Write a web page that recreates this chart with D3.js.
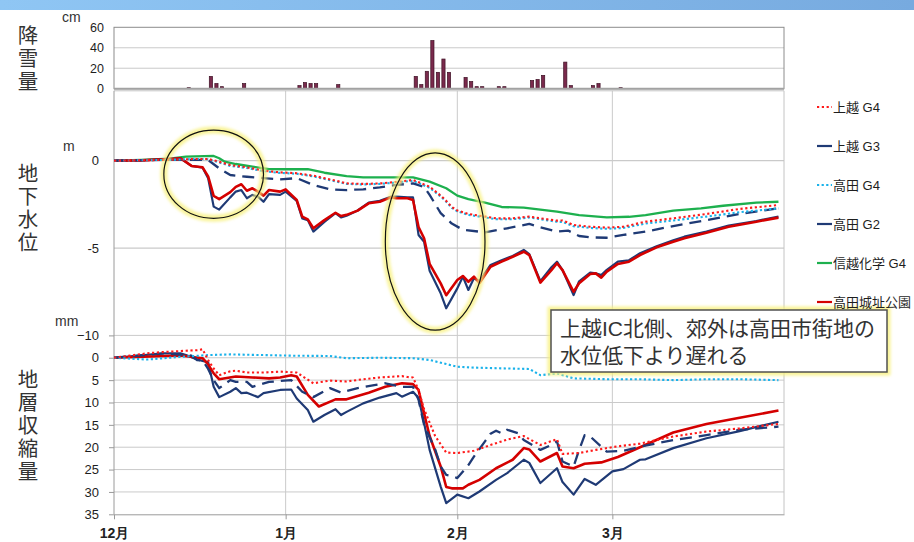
<!DOCTYPE html>
<html>
<head>
<meta charset="utf-8">
<script src="https://cdn.jsdelivr.net/npm/d3@7"></script>
<style>
  html, body { margin: 0; padding: 0; background: #fff; }
  svg { display: block; font-family: "Liberation Sans", "Noto Sans CJK JP", sans-serif; }
</style>
</head>
<body>
<svg id="chart" width="914" height="542"></svg>
<script>
// ---- Data -------------------------------------------------------------
const months = ["12月", "1月", "2月", "3月"];
const monthStarts = ["12-01", "01-01", "02-01", "03-01"];

// daily snowfall (cm)
const snowDates = ["12-14","12-18","12-19","12-20","12-24","01-03","01-04","01-05","01-06","01-10",
  "01-24","01-25","01-26","01-27","01-28","01-29","01-30","02-02","02-03","02-04","02-05","02-08",
  "02-09","02-14","02-15","02-16","02-20","02-21","02-25","02-26","03-02"];
const snowCm = [1,12,5,2,5,3,6,5,5,4,12,4,17,47,16,29,16,11,7,2,2,2,2,8,9,13,26,3,3,5,1];
const snowTicks = [0, 20, 40, 60];

// groundwater level (m)
const gwTickValues = [0, -5, -10];
const gwTickLabels = ["0", "-5", "\u221210"];

const gwJoetsuG4 = [["12-01",0],["12-11",0.05],["12-16",0.1],["12-18",0.1],["12-20",-0.06],["12-22",-0.25],["12-25",-0.38],["12-28",-0.57],["12-31",-0.67],["01-03",-0.72],["01-06",-0.86],["01-10",-1.14],["01-12",-1.3],["01-15",-1.33],["01-18",-1.3],["01-21",-1.22],["01-24",-1.1],["01-27",-1.49],["01-29",-2.0],["01-30",-2.3],["01-31",-2.65],["02-01",-2.85],["02-03",-3.05],["02-06",-3.2],["02-08",-3.3],["02-11",-3.3],["02-14",-3.2],["02-16",-3.3],["02-19",-3.43],["02-20",-3.42],["02-22",-3.68],["02-25",-3.78],["02-28",-3.83],["03-03",-3.78],["03-07",-3.49],["03-12",-3.3],["03-18",-3.05],["03-24",-2.76],["03-31",-2.54]];

const gwJoetsuG3 = [["12-01",0],["12-11",0.05],["12-16",0.05],["12-18",0.04],["12-20",-0.44],["12-22",-0.82],["12-25",-0.92],["12-28",-1.0],["12-31",-1.07],["01-03",-1.0],["01-06",-1.39],["01-09",-1.64],["01-12",-1.68],["01-15",-1.64],["01-18",-1.53],["01-21",-1.39],["01-24",-1.3],["01-26",-1.5],["01-27",-1.96],["01-29",-3.0],["01-31",-3.6],["02-02",-3.95],["02-06",-4.1],["02-10",-3.87],["02-14",-3.62],["02-16",-3.81],["02-19",-4.06],["02-21",-4.0],["02-23",-4.31],["02-25",-4.39],["02-28",-4.41],["03-03",-4.25],["03-07",-4.06],["03-12",-3.74],["03-18",-3.4],["03-24",-3.05],["03-31",-2.73]];

const gwTakadaG4 = [["12-01",0],["12-11",0.05],["12-16",0.1],["12-18",0.08],["12-20",-0.1],["12-22",-0.3],["12-25",-0.42],["12-28",-0.6],["12-31",-0.7],["01-03",-0.75],["01-06",-0.9],["01-10",-1.18],["01-12",-1.33],["01-15",-1.36],["01-18",-1.33],["01-21",-1.25],["01-24",-1.15],["01-27",-1.55],["01-29",-2.05],["01-30",-2.35],["01-31",-2.7],["02-01",-2.9],["02-03",-3.1],["02-06",-3.25],["02-08",-3.35],["02-11",-3.35],["02-14",-3.25],["02-16",-3.35],["02-19",-3.5],["02-20",-3.5],["02-22",-3.75],["02-25",-3.85],["02-28",-3.9],["03-03",-3.85],["03-07",-3.6],["03-12",-3.42],["03-18",-3.2],["03-24",-2.95],["03-31",-2.73]];

const gwTakadaG2 = [["12-01",0],["12-06",0.02],["12-11",0.1],["12-13",0.14],["12-15",-0.3],["12-17",-0.4],["12-18",-1.0],["12-19",-2.63],["12-20",-2.8],["12-22",-2.1],["12-23",-1.77],["12-24",-1.68],["12-25",-2.15],["12-26",-1.96],["12-27",-2.06],["12-28",-2.35],["12-29",-1.91],["12-31",-1.96],["01-01",-1.77],["01-03",-2.3],["01-04",-3.3],["01-05",-3.4],["01-06",-4.06],["01-08",-3.5],["01-10",-3.0],["01-11",-3.25],["01-12",-3.15],["01-14",-2.85],["01-16",-2.4],["01-18",-2.3],["01-20",-2.06],["01-21",-2.05],["01-23",-2.1],["01-24",-2.1],["01-25",-4.25],["01-26",-4.64],["01-27",-6.3],["01-29",-7.59],["01-30",-8.45],["02-01",-7.31],["02-02",-6.64],["02-03",-7.4],["02-04",-6.73],["02-05",-6.9],["02-07",-5.97],["02-09",-5.7],["02-11",-5.45],["02-13",-5.11],["02-14",-5.35],["02-16",-6.9],["02-18",-6.1],["02-19",-5.78],["02-20",-6.26],["02-22",-7.69],["02-23",-6.9],["02-25",-6.4],["02-26",-6.45],["02-27",-6.55],["02-28",-6.25],["03-02",-5.78],["03-04",-5.7],["03-06",-5.3],["03-09",-4.9],["03-12",-4.55],["03-14",-4.35],["03-18",-4.06],["03-22",-3.72],["03-27",-3.45],["03-31",-3.2]];

const gwShinetsuG4 = [["12-01",0],["12-06",0.05],["12-11",0.12],["12-14",0.23],["12-19",0.27],["12-20",0.14],["12-21",-0.06],["12-23",-0.19],["12-26",-0.34],["12-29",-0.48],["01-01",-0.49],["01-05",-0.49],["01-08",-0.69],["01-12",-0.88],["01-15",-0.95],["01-22",-0.95],["01-24",-0.95],["01-27",-1.2],["01-30",-1.58],["02-01",-2.0],["02-03",-2.2],["02-06",-2.4],["02-09",-2.65],["02-13",-2.69],["02-19",-2.92],["02-23",-3.11],["02-28",-3.24],["03-04",-3.21],["03-07",-3.11],["03-12",-2.86],["03-17",-2.73],["03-21",-2.58],["03-27",-2.4],["03-31",-2.35]];

const gwTakadaCastle = [["12-01",0],["12-06",0.02],["12-11",0.1],["12-13",0.14],["12-15",-0.3],["12-17",-0.38],["12-18",-0.9],["12-19",-2.02],["12-20",-2.2],["12-22",-1.8],["12-23",-1.5],["12-24",-1.35],["12-25",-1.72],["12-26",-1.58],["12-27",-1.77],["12-28",-2.0],["12-29",-1.68],["12-31",-1.77],["01-01",-1.64],["01-03",-2.25],["01-04",-3.2],["01-05",-3.36],["01-06",-3.87],["01-08",-3.4],["01-10",-2.98],["01-11",-3.17],["01-12",-3.1],["01-14",-2.86],["01-16",-2.44],["01-18",-2.35],["01-20",-2.1],["01-21",-2.15],["01-23",-2.15],["01-24",-2.25],["01-25",-3.8],["01-26",-4.44],["01-27",-5.9],["01-29",-7.02],["01-30",-7.7],["02-01",-6.83],["02-02",-6.6],["02-03",-6.93],["02-04",-6.64],["02-05",-7.0],["02-07",-6.07],["02-09",-5.78],["02-11",-5.5],["02-13",-5.21],["02-14",-5.4],["02-16",-6.98],["02-18",-6.26],["02-19",-5.87],["02-20",-6.26],["02-22",-7.5],["02-23",-7.02],["02-25",-6.49],["02-26",-6.45],["02-27",-6.7],["02-28",-6.35],["03-02",-5.91],["03-04",-5.78],["03-06",-5.4],["03-09",-4.96],["03-12",-4.64],["03-14",-4.44],["03-18",-4.12],["03-22",-3.78],["03-27",-3.49],["03-31",-3.26]];

// layer compaction (mm, downward positive)
const subTicks = [0, 5, 10, 15, 20, 25, 30, 35];

const subJoetsuG4 = [["12-01",0],["12-07",-1.0],["12-10",-1.3],["12-13",-1.5],["12-16",-1.7],["12-17",-1.9],["12-18",0.5],["12-19",2.4],["12-20",3.9],["12-22",3.0],["12-23",2.9],["12-25",3.3],["12-28",3.3],["12-31",3.1],["01-03",3.3],["01-06",5.7],["01-09",5.1],["01-12",5.3],["01-15",4.8],["01-18",4.4],["01-22",4.1],["01-23",4.3],["01-24",4.4],["01-25",7.2],["01-26",11.5],["01-28",17.5],["01-30",21.2],["02-01",21.3],["02-04",20.8],["02-07",19.5],["02-10",18.3],["02-13",17.5],["02-16",19.5],["02-19",18.2],["02-20",21.5],["02-23",21.3],["02-26",20.6],["03-02",19.8],["03-06",19.2],["03-12",17.6],["03-18",16.5],["03-24",15.8],["03-31",14.8]];

const subJoetsuG3 = [["12-01",0],["12-10",-1.0],["12-15",-0.5],["12-16",0.5],["12-17",0.6],["12-18",2.5],["12-19",5.0],["12-20",6.8],["12-22",5.0],["12-23",5.4],["12-25",5.4],["12-26",6.5],["12-29",5.4],["12-31",5.2],["01-02",5.0],["01-04",7.6],["01-06",8.8],["01-09",6.8],["01-11",7.8],["01-14",6.8],["01-17",6.1],["01-19",5.7],["01-22",6.5],["01-24",6.5],["01-25",9.4],["01-26",15.0],["01-28",20.5],["01-29",24.3],["01-30",26.2],["01-31",26.4],["02-01",26.9],["02-03",24.0],["02-04",22.1],["02-06",18.7],["02-07",17.0],["02-08",16.3],["02-09",16.9],["02-10",16.1],["02-12",16.9],["02-13",18.4],["02-14",19.1],["02-16",20.6],["02-18",19.5],["02-19",18.7],["02-20",23.2],["02-22",24.3],["02-23",20.6],["02-24",17.3],["02-25",17.6],["02-27",19.9],["02-28",21.0],["03-03",20.8],["03-06",19.9],["03-12",18.4],["03-18",17.3],["03-24",16.1],["03-31",15.4]];

const subTakadaG4 = [["12-01",0],["12-07",0.4],["12-13",-0.2],["12-18",-0.6],["12-22",-0.75],["12-28",-0.6],["01-03",-0.45],["01-09",-0.4],["01-12",0.1],["01-18",0],["01-24",0.1],["01-27",0.5],["01-30",1.4],["02-01",2.0],["02-04",2.2],["02-10",2.4],["02-14",2.5],["02-16",3.9],["02-19",3.5],["02-22",4.6],["02-28",4.8],["03-06",4.8],["03-12",5.0],["03-18",4.8],["03-24",4.8],["03-31",5.0]];

const subTakadaG2 = [["12-01",0],["12-10",-1.0],["12-13",-1.0],["12-14",-0.6],["12-16",0.4],["12-17",0.7],["12-18",1.0],["12-19",6.5],["12-20",8.8],["12-22",7.6],["12-23",6.8],["12-24",7.9],["12-25",7.8],["12-27",8.8],["12-28",7.9],["12-31",7.2],["01-02",7.1],["01-03",9.1],["01-05",11.7],["01-06",14.3],["01-08",12.8],["01-10",11.5],["01-11",12.8],["01-12",12.1],["01-15",10.2],["01-18",8.9],["01-21",7.9],["01-22",8.7],["01-24",7.6],["01-25",9.0],["01-26",14.6],["01-27",20.6],["01-29",28.8],["01-30",32.5],["02-01",30.6],["02-03",31.4],["02-05",29.9],["02-08",27.3],["02-10",25.8],["02-13",22.8],["02-14",23.5],["02-16",28.0],["02-19",24.7],["02-20",27.8],["02-22",30.6],["02-24",27.1],["02-26",28.4],["03-01",25.4],["03-03",24.9],["03-06",22.8],["03-07",22.7],["03-12",20.2],["03-18",18.0],["03-24",16.4],["03-31",14.3]];

const subTakadaCastle = [["12-01",0],["12-13",-0.5],["12-17",0.1],["12-18",1.5],["12-19",3.5],["12-20",4.8],["12-23",4.2],["12-26",4.4],["12-29",4.6],["12-31",4.4],["01-02",3.9],["01-03",4.2],["01-05",8.3],["01-07",10.9],["01-10",9.3],["01-12",9.3],["01-16",7.8],["01-19",6.5],["01-22",5.7],["01-24",5.9],["01-25",7.2],["01-26",12.4],["01-27",17.5],["01-29",24.3],["01-30",28.9],["01-31",29.2],["02-02",29.2],["02-03",28.4],["02-05",27.3],["02-08",24.7],["02-11",22.8],["02-13",20.2],["02-14",20.5],["02-16",23.2],["02-19",21.3],["02-20",24.3],["02-22",24.7],["02-24",23.7],["02-27",23.4],["03-02",22.2],["03-06",20.0],["03-12",16.7],["03-18",14.8],["03-24",13.4],["03-31",11.8]];

// ---- Helpers ----------------------------------------------------------
// season runs December → March; December belongs to the earlier year
const parseDay = s => {
  const [m, d] = s.split("-").map(Number);
  return new Date(Date.UTC(m === 12 ? 2010 : 2011, m - 1, d));
};

// series styles (legend order)
const styles = {
  "上越 G4":      { color: "#ff1a1a", width: 2.1, dash: "2.2,2.6", legendDash: "2.2,2.6" },
  "上越 G3":      { color: "#1f3a75", width: 2.3, dash: "12,7",    legendDash: null },
  "高田 G4":      { color: "#1ab2ea", width: 2.1, dash: "2.2,2.4", legendDash: "2.2,2.4" },
  "高田 G2":      { color: "#1f3a75", width: 2.2, dash: null,      legendDash: null },
  "信越化学 G4":  { color: "#1db04e", width: 2.3, dash: null,      legendDash: null },
  "高田城址公園": { color: "#d40000", width: 2.6, dash: null,      legendDash: null }
};
const legendOrder = ["上越 G4", "上越 G3", "高田 G4", "高田 G2", "信越化学 G4", "高田城址公園"];

// drawing order (bottom → top)
const gwSeries = [
  ["信越化学 G4", gwShinetsuG4], ["高田 G2", gwTakadaG2], ["高田城址公園", gwTakadaCastle],
  ["上越 G3", gwJoetsuG3], ["高田 G4", gwTakadaG4], ["上越 G4", gwJoetsuG4]
];
const subSeries = [
  ["高田 G2", subTakadaG2], ["高田城址公園", subTakadaCastle],
  ["上越 G3", subJoetsuG3], ["高田 G4", subTakadaG4], ["上越 G4", subJoetsuG4]
];

// ---- Layout -----------------------------------------------------------
const X0 = 114, X1 = 784;
const svg = d3.select("#chart");

const x = d3.scaleUtc().domain([parseDay("12-01"), parseDay("04-01")]).range([X0, X1]);
const ySnow = d3.scaleLinear().domain([0, 60]).range([88.7, 27.3]);
const yGw = d3.scaleLinear().domain([-10, 4]).range([335.4, 90.8]);
const ySub = d3.scaleLinear().domain([-5, 35]).range([335.4, 514.3]);

const gridColor = "#cacaca";
const axisColor = "#9a9a9a";
const textColor = "#1e1e1e";

// header band
const defs = svg.append("defs");
const band = defs.append("linearGradient").attr("id", "band").attr("x1", 0).attr("x2", 1);
band.append("stop").attr("offset", 0).attr("stop-color", "#8fc6f4");
band.append("stop").attr("offset", 1).attr("stop-color", "#77aadf");
svg.append("rect").attr("x", 0).attr("y", 0).attr("width", 914).attr("height", 10).attr("fill", "url(#band)");

const glow = defs.append("filter").attr("id", "glow").attr("x", "-20%").attr("y", "-20%").attr("width", "140%").attr("height", "140%");
glow.append("feGaussianBlur").attr("stdDeviation", 1.6);

// ---- Snowfall panel ---------------------------------------------------
const snowG = svg.append("g");
snowG.selectAll("line.grid").data([20, 40]).join("line")
  .attr("x1", X0).attr("x2", X1)
  .attr("y1", d => ySnow(d)).attr("y2", d => ySnow(d))
  .attr("stroke", gridColor).attr("stroke-width", 1);
snowG.append("rect")
  .attr("x", X0).attr("y", ySnow(60))
  .attr("width", X1 - X0).attr("height", ySnow(0) - ySnow(60))
  .attr("fill", "none").attr("stroke", "#8c8c8c").attr("stroke-width", 1);

const dayW = x(parseDay("12-02")) - x(parseDay("12-01"));
snowG.selectAll("rect.bar").data(snowDates.map((d, i) => ({ date: parseDay(d), cm: snowCm[i] })))
  .join("rect").attr("class", "bar")
  .attr("x", d => x(d.date) + dayW / 2 - 1.6)
  .attr("width", 3.2)
  .attr("y", d => ySnow(d.cm))
  .attr("height", d => ySnow(0) - ySnow(d.cm))
  .attr("fill", "#7a2a4c").attr("stroke", "#3d1024").attr("stroke-width", 0.7);

snowG.append("line")
  .attr("x1", X0).attr("x2", X1).attr("y1", ySnow(0)).attr("y2", ySnow(0))
  .attr("stroke", "#a2a2a2").attr("stroke-width", 2);

const snowAxis = snowG.append("g").attr("transform", `translate(${X0},0)`)
  .call(d3.axisLeft(ySnow).tickValues(snowTicks).tickSize(0).tickPadding(10));
snowAxis.select(".domain").remove();
snowAxis.selectAll("text").attr("font-size", 12.5).attr("fill", textColor)
  .attr("font-family", "Liberation Sans, sans-serif");

// ---- Groundwater & compaction frames ----------------------------------
const frame = svg.append("g");
// month gridlines through both lower panels
frame.selectAll("line.vgrid").data(monthStarts.slice(1)).join("line")
  .attr("x1", d => x(parseDay(d))).attr("x2", d => x(parseDay(d)))
  .attr("y1", yGw(4)).attr("y2", ySub(35))
  .attr("stroke", gridColor).attr("stroke-width", 1);
// horizontal gridlines
frame.selectAll("line.gwgrid").data([0, -5]).join("line")
  .attr("x1", X0).attr("x2", X1)
  .attr("y1", d => yGw(d)).attr("y2", d => yGw(d))
  .attr("stroke", gridColor).attr("stroke-width", 1.2);
frame.selectAll("line.subgrid").data([-5, 0, 5, 10, 15, 20, 25, 30]).join("line")
  .attr("x1", X0).attr("x2", X1)
  .attr("y1", d => ySub(d)).attr("y2", d => ySub(d))
  .attr("stroke", gridColor).attr("stroke-width", 1);
// panel top and right edges
frame.append("line").attr("x1", X0).attr("x2", X1).attr("y1", yGw(4)).attr("y2", yGw(4))
  .attr("stroke", "#c4c4c4").attr("stroke-width", 1);
frame.append("line").attr("x1", X1).attr("x2", X1).attr("y1", yGw(4)).attr("y2", ySub(35))
  .attr("stroke", "#c4c4c4").attr("stroke-width", 1);
// left value axis
frame.append("line").attr("x1", X0).attr("x2", X0).attr("y1", yGw(4)).attr("y2", ySub(35))
  .attr("stroke", axisColor).attr("stroke-width", 1);

const gwAxis = frame.append("g").attr("transform", `translate(${X0},0)`)
  .call(d3.axisLeft(yGw).tickValues(gwTickValues)
    .tickFormat((d, i) => gwTickLabels[i]).tickSize(0).tickPadding(15));
gwAxis.select(".domain").remove();
gwAxis.selectAll("text").attr("font-size", 13).attr("fill", textColor);

const subAxis = frame.append("g").attr("transform", `translate(${X0},0)`)
  .call(d3.axisLeft(ySub).tickValues([-5, ...subTicks])
    .tickFormat(d => d < 0 ? "" : d).tickSize(5).tickSizeOuter(0).tickPadding(10));
subAxis.select(".domain").remove();
subAxis.selectAll("line").attr("stroke", axisColor);
subAxis.selectAll("text").attr("font-size", 13).attr("fill", textColor);

const xAxis = frame.append("g").attr("transform", `translate(0,${ySub(35)})`)
  .call(d3.axisBottom(x).tickValues(monthStarts.map(parseDay))
    .tickFormat((d, i) => months[i]).tickSize(5).tickSizeOuter(0).tickPadding(9));
xAxis.select(".domain").attr("stroke", axisColor);
xAxis.selectAll("line").attr("stroke", axisColor);
xAxis.selectAll("text").attr("font-size", 14).attr("font-weight", 600).attr("fill", "#222");

// ---- Series -----------------------------------------------------------
function drawSeries(list, yScale) {
  const line = d3.line()
    .x(d => x(parseDay(d[0])))
    .y(d => yScale(d[1]));
  svg.append("g").selectAll("path").data(list).join("path")
    .attr("d", d => line(d[1]))
    .attr("fill", "none")
    .attr("stroke", d => styles[d[0]].color)
    .attr("stroke-width", d => styles[d[0]].width)
    .attr("stroke-dasharray", d => styles[d[0]].dash)
    .attr("stroke-linejoin", "round");
}
drawSeries(gwSeries, yGw);
drawSeries(subSeries, ySub);

// ---- Highlight ellipses -------------------------------------------------
const ellipses = [
  { from: "12-10", to: "12-28", top: 1.75, bottom: -3.3 },
  { from: "01-19", to: "02-06", top: 0.45, bottom: -9.7 }
];
const eG = svg.append("g");
ellipses.forEach(e => {
  const cx = (x(parseDay(e.from)) + x(parseDay(e.to))) / 2;
  const rx = (x(parseDay(e.to)) - x(parseDay(e.from))) / 2;
  const cy = (yGw(e.top) + yGw(e.bottom)) / 2;
  const ry = (yGw(e.bottom) - yGw(e.top)) / 2;
  eG.append("ellipse").attr("cx", cx).attr("cy", cy).attr("rx", rx).attr("ry", ry)
    .attr("fill", "none").attr("stroke", "#f7f07a").attr("stroke-width", 7)
    .attr("stroke-opacity", 0.75).attr("filter", "url(#glow)");
  eG.append("ellipse").attr("cx", cx).attr("cy", cy).attr("rx", rx).attr("ry", ry)
    .attr("fill", "none").attr("stroke", "#111").attr("stroke-width", 1.2);
});

// ---- Callout ------------------------------------------------------------
const callout = svg.append("g");
callout.append("rect").attr("x", 551).attr("y", 310).attr("width", 336).attr("height", 62)
  .attr("fill", "none").attr("stroke", "#f7f07a").attr("stroke-width", 7)
  .attr("stroke-opacity", 0.8).attr("filter", "url(#glow)");
callout.append("rect").attr("x", 551).attr("y", 310).attr("width", 336).attr("height", 62)
  .attr("fill", "#fff").attr("stroke", "#505050").attr("stroke-width", 1.5);
callout.selectAll("text").data(["上越IC北側、郊外は高田市街地の", "水位低下より遅れる"]).join("text")
  .attr("x", 560).attr("y", (d, i) => 336 + i * 27)
  .attr("font-size", 21).attr("fill", "#333")
  .text(d => d);

// ---- Legend -------------------------------------------------------------
const legend = svg.append("g");
legendOrder.forEach((name, i) => {
  const yy = 107 + i * 39;
  const s = styles[name];
  legend.append("line").attr("x1", 817).attr("x2", 832).attr("y1", yy).attr("y2", yy)
    .attr("stroke", s.color).attr("stroke-width", 2.2)
    .attr("stroke-dasharray", s.legendDash);
  legend.append("text").attr("x", 833).attr("y", yy + 4.5)
    .attr("font-size", 13).attr("fill", textColor).text(name);
});

// ---- Panel titles (vertical) and units ------------------------------------
const titles = [
  { text: "降雪量", y0: 25 },
  { text: "地下水位", y0: 163 },
  { text: "地層収縮量", y0: 369 }
];
svg.append("g").selectAll("text").data(titles).join("text")
  .attr("x", 28).attr("y", d => d.y0)
  .attr("writing-mode", "vertical-rl")
  .style("writing-mode", "vertical-rl")
  .style("text-orientation", "upright")
  .attr("letter-spacing", 2.5)
  .attr("font-family", "Noto Sans CJK JP, sans-serif")
  .attr("font-size", 20.5).attr("fill", "#333")
  .text(d => d.text);

[{ t: "cm", x: 62, y: 22 }, { t: "m", x: 63, y: 151 }, { t: "mm", x: 55, y: 326 }].forEach(u => {
  svg.append("text").attr("x", u.x).attr("y", u.y).attr("font-size", 14)
    .attr("fill", "#333").text(u.t);
});
</script>
</body>
</html>
